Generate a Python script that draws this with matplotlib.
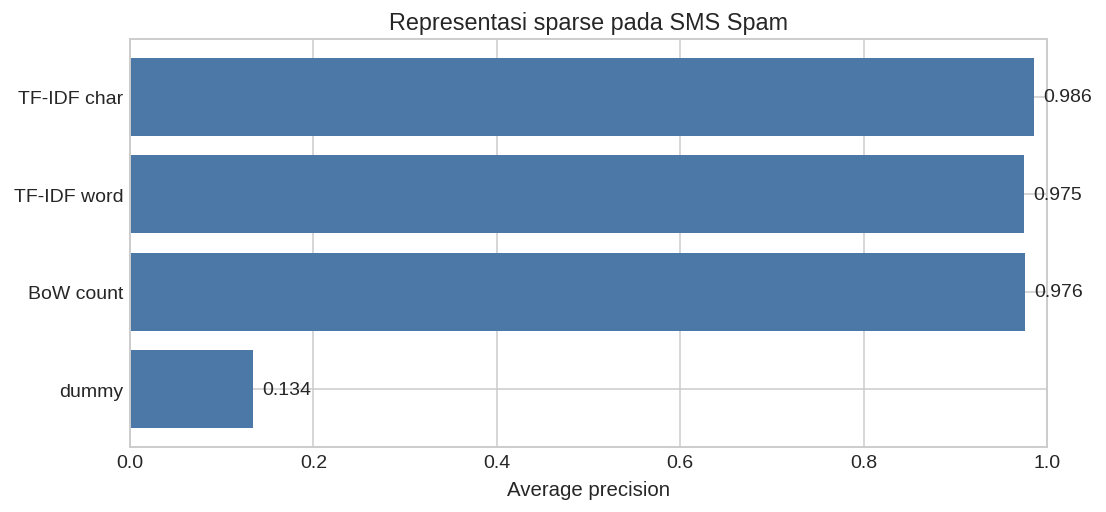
import matplotlib
matplotlib.use("Agg")
import matplotlib.pyplot as plt

# average precision per sparse representation (SMS Spam)
labels = ["dummy", "BoW count", "TF-IDF word", "TF-IDF char"]
scores = [0.134, 0.976, 0.975, 0.986]

plt.style.use("seaborn-v0_8-whitegrid")
plt.rcParams["font.family"] = ["Liberation Sans", "DejaVu Sans"]

fig, ax = plt.subplots(figsize=(7.9, 3.664), dpi=140)
fig.subplots_adjust(left=0.1175, right=0.9467, top=0.922, bottom=0.1267)

ax.barh(labels, scores, color="#4c78a8", zorder=2)
for i, v in enumerate(scores):
    ax.text(v + 0.01, i, f"{v:.3f}", va="center", fontsize=10, color="#262626")

ax.set_xlim(0, 1)
ax.set_xlabel("Average precision", fontsize=10.5, labelpad=5)
ax.set_title("Representasi sparse pada SMS Spam", fontsize=12, pad=5)
ax.tick_params(labelsize=10)
for s in ax.spines.values():
    s.set_visible(True)
    s.set_color("#cccccc")

plt.savefig("out.png", dpi=140)
